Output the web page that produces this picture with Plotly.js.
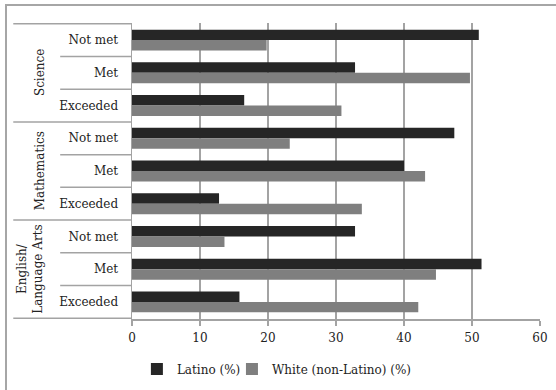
<!DOCTYPE html>
<html>
<head>
<meta charset="utf-8">
<script src="https://cdn.plot.ly/plotly-3.0.1.min.js"></script>
<style>
  html, body { margin: 0; padding: 0; background: #fff; overflow: hidden; }
  #frame { position: absolute; left: 5px; top: 4px; width: 600px; height: 450px;
           border: 2px solid #a6a6a6; box-sizing: border-box; }
  #chart { position: absolute; left: 0; top: 0; width: 556px; height: 390px; }
</style>
</head>
<body>
<div id="frame"></div>
<div id="chart"></div>
<script>
// Subjects (outer category level) and performance levels (inner level), top to bottom
const subjects = ["Science", "Mathematics", "English/<br>Language Arts"];
const levels = ["Not met", "Met", "Exceeded"];

// Percent of students at each level, listed subject by subject
const latinoPct = [51.0, 32.8, 16.5,   47.4, 40.0, 12.8,   32.8, 51.4, 15.8];
const whitePct  = [19.8, 49.7, 30.8,   23.2, 43.1, 33.8,   13.6, 44.7, 42.1];

const seriesNames = ["Latino (%)", "White (non-Latino) (%)"];
const xTicks = [0, 10, 20, 30, 40, 50, 60];

// Unique category keys so repeated level names stay separate rows
const catKeys = [];
const catText = [];
subjects.forEach(function (s, si) {
  levels.forEach(function (l) {
    catKeys.push(si + "|" + l);
    catText.push(l);
  });
});

const FONT = "DejaVu Serif, Liberation Serif, serif";
const GRID = "#a3a3a3";

// Each series gets its own legend box so the two entries sit close together
const traces = [
  { type: "bar", orientation: "h", name: seriesNames[0], x: latinoPct, y: catKeys,
    legend: "legend", marker: { color: "#262626", line: { width: 0 } } },
  { type: "bar", orientation: "h", name: seriesNames[1], x: whitePct, y: catKeys,
    legend: "legend2", marker: { color: "#7f7f7f", line: { width: 0 } } }
];

// Divider lines of the two-level category axis, left of the plot
const shapes = [];
const nLev = levels.length;
for (let b = 0; b <= catKeys.length; b++) {
  const isGroupEdge = (b % nLev === 0);
  shapes.push({
    type: "line", xref: "paper", yref: "y",
    x0: isGroupEdge ? -0.291 : -0.176, x1: 0,
    y0: b - 0.5, y1: b - 0.5,
    line: { color: GRID, width: 1.5 }
  });
}

// Rotated subject names
const groupX = [-0.2249, -0.2249, -0.2485];
const annotations = subjects.map(function (s, si) {
  return {
    text: s, textangle: -90, showarrow: false,
    xref: "paper", yref: "y", x: groupX[si], y: si * nLev + (nLev - 1) / 2,
    xanchor: "center", yanchor: "middle",
    font: { family: FONT, size: 12, color: "#222" }
  };
});

const legendBase = {
  orientation: "h", xanchor: "left", y: -0.169, yanchor: "middle",
  font: { family: FONT, size: 12, color: "#222" }
};

const layout = {
  width: 556, height: 390,
  margin: { l: 132, r: 16, t: 23, b: 71, autoexpand: false },
  paper_bgcolor: "rgba(0,0,0,0)", plot_bgcolor: "rgba(0,0,0,0)",
  font: { family: FONT, size: 12, color: "#222" },
  barmode: "group", bargap: 0.36, bargroupgap: 0,
  showlegend: true,
  legend: Object.assign({ x: 0.012 }, legendBase),
  legend2: Object.assign({ x: 0.245 }, legendBase),
  xaxis: {
    range: [0, 60], tickvals: xTicks, ticktext: xTicks.map(String),
    showgrid: true, gridcolor: GRID, gridwidth: 1.5, zeroline: false,
    showline: true, linecolor: GRID, linewidth: 1.5,
    ticks: "outside", ticklen: 5, tickcolor: GRID, tickwidth: 1.5,
    ticklabelstandoff: 2,
    tickfont: { family: FONT, size: 12, color: "#222" }, fixedrange: true
  },
  yaxis: {
    type: "category", categoryorder: "array", categoryarray: catKeys,
    autorange: "reversed", tickvals: catKeys, ticktext: catText,
    showgrid: false, zeroline: false,
    showline: true, linecolor: GRID, linewidth: 1.5,
    ticks: "", ticklabelstandoff: 10,
    tickfont: { family: FONT, size: 12, color: "#222" }, fixedrange: true
  },
  shapes: shapes,
  annotations: annotations
};

Plotly.newPlot("chart", traces, layout, { displayModeBar: false, staticPlot: true });
</script>
</body>
</html>
